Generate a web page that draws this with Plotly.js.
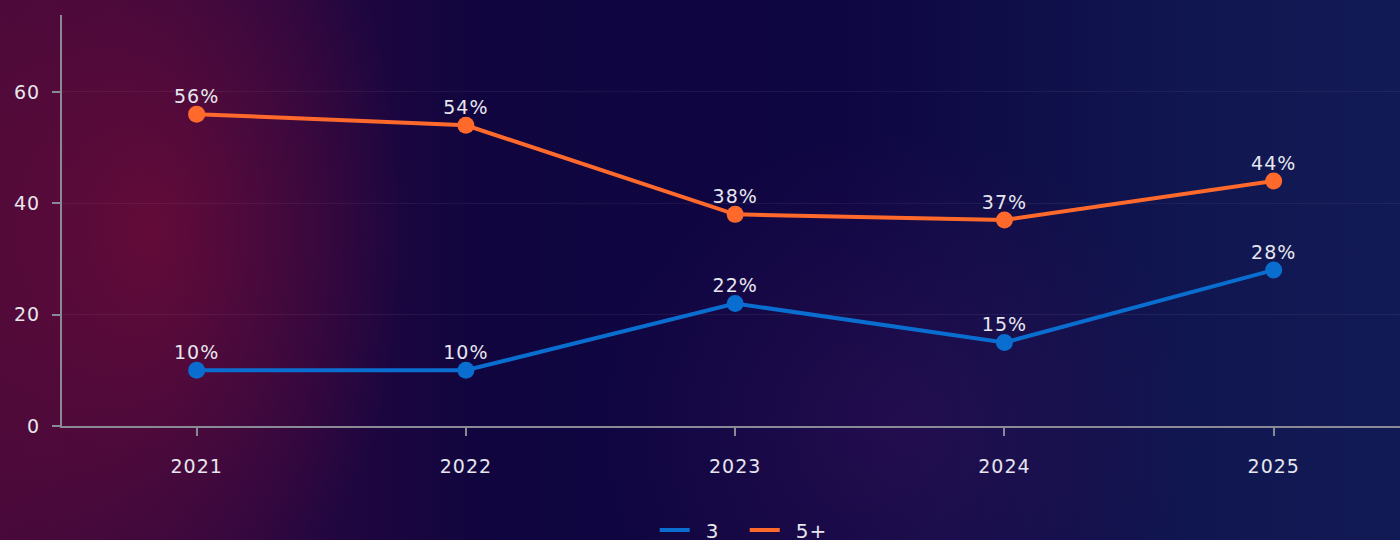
<!DOCTYPE html>
<html>
<head>
<meta charset="utf-8">
<script src="https://cdn.plot.ly/plotly-3.0.1.min.js"></script>
<style>
html,body{margin:0;padding:0;width:1400px;height:540px;overflow:hidden;}
body{background:
 radial-gradient(ellipse 260px 420px at 150px 230px, rgba(110,12,55,0.8), rgba(110,12,55,0) 100%),
 radial-gradient(ellipse 300px 300px at 900px 430px, rgba(60,20,90,0.45), rgba(60,20,90,0) 100%),
 linear-gradient(to right, #46093a 0%, #2a0740 18%, #10053f 35%, #0e0642 60%, #101650 85%, #121a55 100%);}
#chart{width:1400px;height:540px;}
#chart text{letter-spacing:1px;}
</style>
</head>
<body>
<div id="chart"></div>
<script>
const years = ['2021','2022','2023','2024','2025'];
const series3 = [10, 10, 22, 15, 28];
const series5 = [56, 54, 38, 37, 44];
const name3 = '3';
const name5 = '5+';
const color3 = '#0a6ed0';
const color5 = '#ff6a2c';
const FONT = 'DejaVu Sans, sans-serif';

function lineTrace(name, vals, color){
  return {type:'scatter', mode:'lines', name:'\u2002' + name, x:years, y:vals,
    line:{color:color, width:4}, cliponaxis:false, hoverinfo:'skip'};
}
function markerTrace(vals, color){
  return {type:'scatter', mode:'markers', showlegend:false, x:years, y:vals,
    marker:{color:color, size:17}, cliponaxis:false};
}
function textTrace(vals){
  return {type:'scatter', mode:'markers+text', showlegend:false, x:years, y:vals,
    marker:{size:9, opacity:0},
    text: vals.map(v=>v+'%'), textposition:'top center',
    textfont:{color:'#e6e6ee', size:19, family:FONT}, cliponaxis:false, hoverinfo:'skip'};
}
const data = [
  lineTrace(name3, series3, color3), lineTrace(name5, series5, color5),
  markerTrace(series3, color3), markerTrace(series5, color5),
  textTrace(series3), textTrace(series5)
];
const layout = {
  width:1400, height:540,
  paper_bgcolor:'rgba(0,0,0,0)', plot_bgcolor:'rgba(0,0,0,0)',
  margin:{l:62, r:0, t:15, b:114, autoexpand:false},
  font:{family:FONT, color:'#e6e6ee', size:19},
  showlegend:true,
  legend:{orientation:'h', x:0.443, xanchor:'left', y:-0.253, yanchor:'middle',
    entrywidth:45, entrywidthmode:'pixels', font:{size:20, color:'#e6e6ee'}},
  xaxis:{type:'category', range:[-0.5, 4.469], showline:true, linecolor:'#8a8a96', linewidth:2,
    ticks:'outside', ticklen:8, tickcolor:'#8a8a96', tickwidth:2, showgrid:false, zeroline:false,
    automargin:false, ticklabelstandoff:14, tickfont:{size:19}},
  yaxis:{range:[0, 73.8], tickvals:[0,20,40,60], showline:true, linecolor:'#8a8a96', linewidth:2,
    ticks:'outside', ticklen:8, tickcolor:'#8a8a96', tickwidth:2, gridcolor:'rgba(255,255,255,0.06)', zeroline:false,
    automargin:false, ticklabelstandoff:8, tickfont:{size:19}}
};
Plotly.newPlot('chart', data, layout, {displayModeBar:false});
</script>
</body>
</html>
